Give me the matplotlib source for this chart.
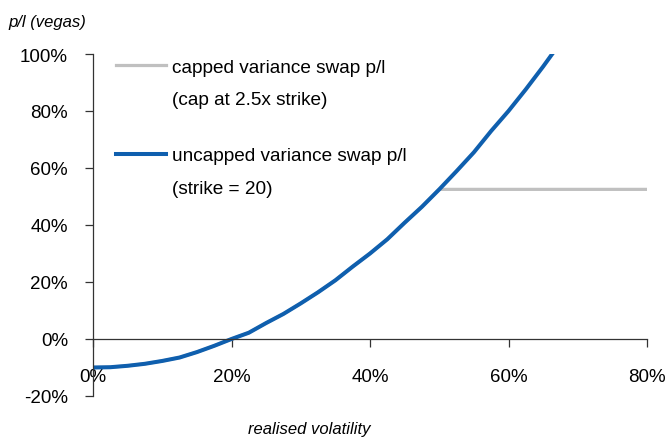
import numpy as np
import matplotlib
matplotlib.use('Agg')
import matplotlib.pyplot as plt
from matplotlib.ticker import FuncFormatter
from matplotlib.lines import Line2D

plt.rcParams['font.family'] = ['Liberation Sans', 'DejaVu Sans']

# realised volatility (%) and p/l in vegas (%)
vol = [0, 2.5, 5, 7.5, 10, 12.5, 15, 17.5, 20, 22.5, 25, 27.5, 30, 32.5, 35,
       37.5, 40, 42.5, 45, 47.5, 50, 52.5, 55, 57.5, 60, 62.5, 65, 67.5]
uncapped = [-10.0, -9.9, -9.4, -8.7, -7.7, -6.5, -4.6, -2.4, 0.0, 2.2, 5.6, 8.8,
            12.5, 16.4, 20.6, 25.4, 30.0, 35.0, 40.8, 46.4, 52.5, 58.9, 65.5,
            73.0, 80.0, 87.6, 95.6, 104.0]
cap_vol = [0, 2.5, 5, 7.5, 10, 12.5, 15, 17.5, 20, 22.5, 25, 27.5, 30, 32.5, 35,
           37.5, 40, 42.5, 45, 47.5, 50, 60, 70, 80]
capped = [-10.0, -9.9, -9.4, -8.7, -7.7, -6.5, -4.6, -2.4, 0.0, 2.2, 5.6, 8.8,
          12.5, 16.4, 20.6, 25.4, 30.0, 35.0, 40.8, 46.4, 52.5, 52.5, 52.5, 52.5]

grey = '#c0c0c0'
blue = '#0f5fae'

fig = plt.figure(figsize=(6.65, 4.39), dpi=100)
ax = fig.add_axes([93/665, 1-397/439, 554/665, 342/439])

ax.plot(np.array(cap_vol)/100, np.array(capped)/100, color=grey, lw=2.3,
        solid_capstyle='butt')
ax.plot(np.array(vol)/100, np.array(uncapped)/100, color=blue, lw=2.9)

ax.set_xlim(0, 0.8)
ax.set_ylim(-0.2, 1.0)
ax.set_xticks([0, 0.2, 0.4, 0.6, 0.8])
ax.set_yticks([-0.2, 0, 0.2, 0.4, 0.6, 0.8, 1.0])
pct = FuncFormatter(lambda v, p: '%d%%' % round(v*100))
ax.xaxis.set_major_formatter(pct)
ax.yaxis.set_major_formatter(pct)

ax.spines['top'].set_visible(False)
ax.spines['right'].set_visible(False)
ax.spines['bottom'].set_position(('data', 0))
for s in ['left', 'bottom']:
    ax.spines[s].set_linewidth(0.9)
    ax.spines[s].set_color('#333333')
ax.tick_params(axis='y', direction='out', length=6, width=0.9, pad=12,
               labelsize=13.5, color='#333333')
ax.tick_params(axis='x', direction='out', length=6, width=0.9, pad=15,
               labelsize=13.5, color='#333333')

# legends, two separate blocks
blank = Line2D([], [], color='none')
h1 = Line2D([], [], color=grey, lw=2.3)
h2 = Line2D([], [], color=blue, lw=2.9)
leg_kw = dict(loc='upper left', frameon=False, fontsize=13.7, handlelength=2.6,
              handletextpad=0.35, labelspacing=0.78, borderaxespad=0)
leg1 = ax.legend([h1, blank], ['capped variance swap p/l', '(cap at 2.5x strike)'],
                 bbox_to_anchor=(0.028, 1.01), **leg_kw)
ax.add_artist(leg1)
ax.legend([h2, blank], ['uncapped variance swap p/l', '(strike = 20)'],
          bbox_to_anchor=(0.028, 0.75), **leg_kw)

fig.text(8/665, 1-22/439, 'p/l (vegas)', fontsize=12, style='italic',
         va='center', ha='left')
fig.text(309/665, 1-430/439, 'realised volatility', fontsize=12,
         style='italic', va='center', ha='center')

fig.savefig('out.png', dpi=100)
